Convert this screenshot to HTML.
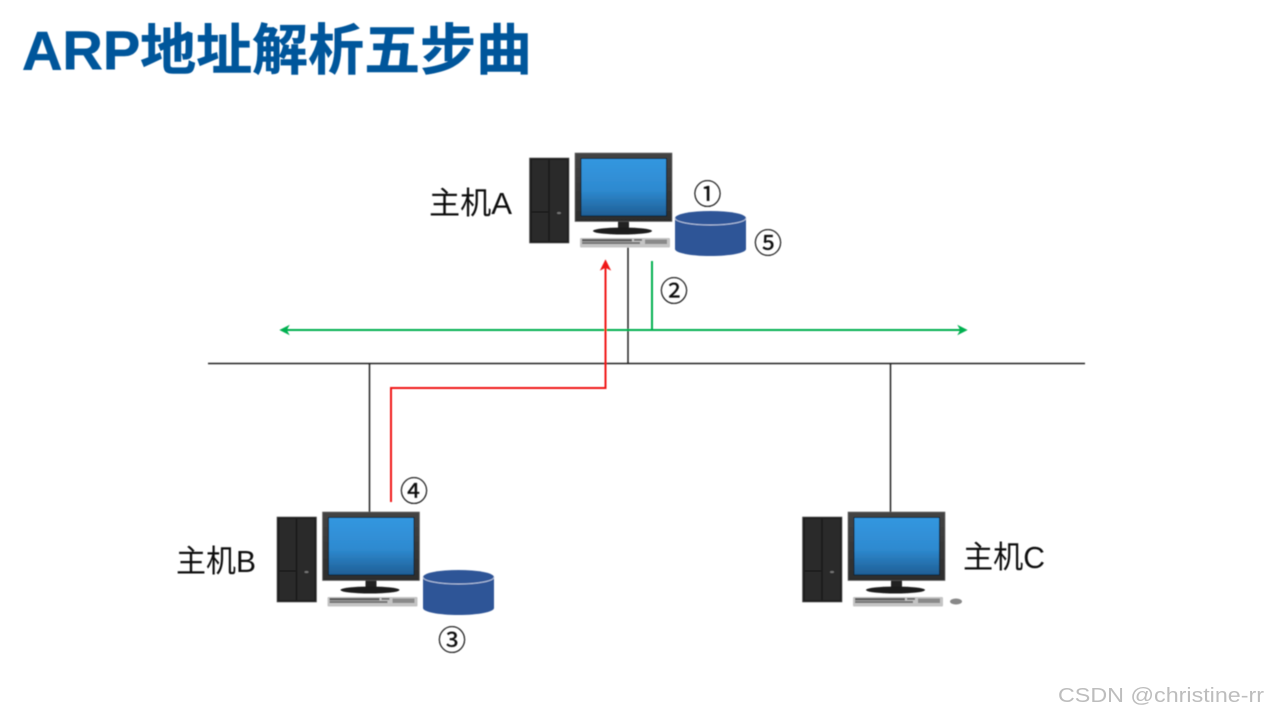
<!DOCTYPE html>
<html lang="zh">
<head>
<meta charset="utf-8">
<title>ARP地址解析五步曲</title>
<style>
html,body{margin:0;padding:0;background:#fff;width:1268px;height:716px;overflow:hidden}
svg{display:block}
text{font-family:"Liberation Sans","Noto Sans CJK SC",sans-serif}
</style>
</head>
<body>
<svg width="1268" height="716" viewBox="0 0 1268 716" xmlns="http://www.w3.org/2000/svg">
<defs>
<linearGradient id="scr" x1="0" y1="0" x2="0" y2="1">
<stop offset="0" stop-color="#3497e0"/><stop offset=".55" stop-color="#2e8ad0"/><stop offset="1" stop-color="#1f5f96"/>
</linearGradient>
<linearGradient id="bez" x1="0" y1="0" x2="0" y2="1">
<stop offset="0" stop-color="#444"/><stop offset="1" stop-color="#2c2c2c"/>
</linearGradient>
<filter id="soft" x="-5%" y="-5%" width="110%" height="110%"><feGaussianBlur stdDeviation="0.5"/></filter>
<g id="pc">
<!-- tower -->
<rect x="529.500" y="158" width="39.500" height="85" fill="#1b1b1b" stroke="#555" stroke-width=".6"/>
<rect x="532" y="160" width="16" height="81" fill="#2a2a2a"/>
<rect x="550" y="160" width="17" height="81" fill="#2a2a2a"/>
<rect x="532" y="211.500" width="16" height="1" fill="#0f0f0f"/>
<ellipse cx="559" cy="213" rx="2" ry="1" fill="#777"/>
<!-- stand -->
<rect x="618" y="220" width="11" height="11" fill="#222"/>
<ellipse cx="622.500" cy="231" rx="29.500" ry="3.500" fill="#1f1f1f"/>
<!-- monitor -->
<rect x="575" y="153" width="97" height="68.500" fill="url(#bez)" stroke="#666" stroke-width=".6"/>
<rect x="580.500" y="158" width="86.500" height="58.500" fill="#123"/>
<rect x="581.500" y="159" width="84.500" height="56.500" fill="url(#scr)"/>
<!-- keyboard -->
<rect x="580" y="238" width="90" height="9.500" rx="1" fill="#c4c4c4"/>
<rect x="582" y="239" width="50" height="2.500" fill="#444" opacity=".8"/>
<rect x="582" y="242" width="58" height="2" fill="#555" opacity=".75"/>
<rect x="634" y="239" width="8" height="1.800" fill="#666"/>
<rect x="645" y="239.500" width="22" height="4.500" fill="#8a8a8a"/>
</g>
<g id="cyl">
<path d="M675 218V249C675 253 691 256 710.500 256S746 253 746 249V218Z" fill="#2f5597"/>
<ellipse cx="710.500" cy="218" rx="35.500" ry="7" fill="#2f5597"/>
<path d="M675 218C675 222 691 225 710.500 225S746 222 746 218" fill="none" stroke="#b9c8e2" stroke-width="1"/>
</g>
</defs>

<g filter="url(#soft)">
<!-- title -->
<text x="22" y="69.500" font-size="55" font-weight="700" fill="#03569b" textLength="510" lengthAdjust="spacingAndGlyphs" stroke="#03569b" stroke-width=".5">ARP地址解析五步曲</text>

<!-- network lines -->
<g stroke="#222" stroke-width="1.500" fill="none">
<path d="M208 363.500H1085"/>
<path d="M628 246V363"/>
<path d="M369.500 363V513"/>
<path d="M890.500 363V513"/>
</g>

<!-- computers -->
<use href="#pc"/>
<use href="#pc" x="-252.500" y="359"/>
<use href="#pc" x="273" y="359"/>
<ellipse cx="956" cy="601.500" rx="6" ry="3" fill="#888"/>

<!-- databases -->
<use href="#cyl"/>
<use href="#cyl" x="-252" y="359"/>

<!-- green broadcast -->
<g stroke="#00b050" stroke-width="2" fill="none">
<path d="M652 261V330"/>
<path d="M284 330H963"/>
</g>
<path d="M280 330L289 325.500L286.500 330L289 334.500Z" fill="#00b050" stroke="#00b050" stroke-width=".6"/>
<path d="M967 330L958 325.500L960.500 330L958 334.500Z" fill="#00b050" stroke="#00b050" stroke-width=".6"/>

<!-- red reply -->
<path d="M391 502V388H605.500V268" stroke="#f01414" stroke-width="2" fill="none"/>
<path d="M605.500 260L600.500 270L605.500 267.500L610.500 270Z" fill="#f01414" stroke="#f01414" stroke-width=".6"/>

<!-- labels -->
<g fill="#111" font-size="31">
<text x="429" y="214" textLength="83" lengthAdjust="spacingAndGlyphs">主机A</text>
<text x="176" y="572" textLength="80" lengthAdjust="spacingAndGlyphs">主机B</text>
<text x="963" y="568" textLength="82" lengthAdjust="spacingAndGlyphs">主机C</text>
</g>
<g fill="#111" stroke="#111" stroke-width=".3" font-size="28" text-anchor="middle" style="font-family:'Noto Sans CJK SC',sans-serif">
<text x="707.500" y="204">①</text>
<text x="768" y="253">⑤</text>
<text x="674" y="301">②</text>
<text x="452" y="650">③</text>
<text x="414" y="501">④</text>
</g>
</g>

<!-- watermark -->
<text x="1058" y="702" font-size="20" fill="#bdbdbd" textLength="206" lengthAdjust="spacingAndGlyphs">CSDN @christine-rr</text>
</svg>
</body>
</html>
